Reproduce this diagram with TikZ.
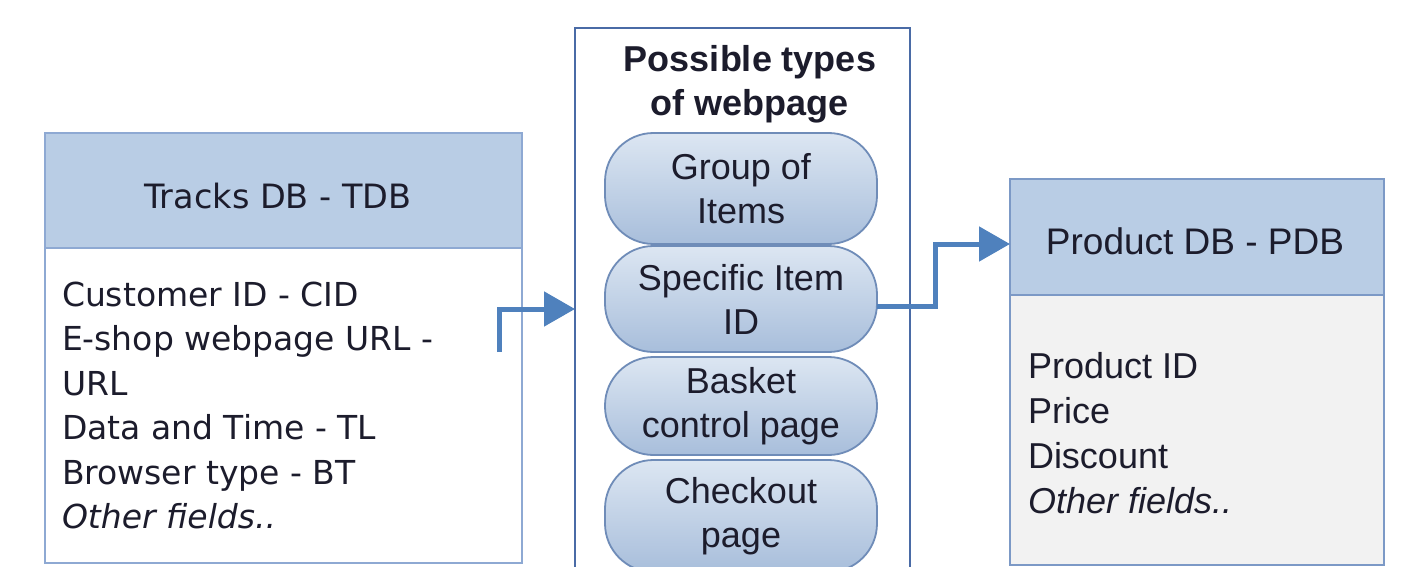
\documentclass[tikz,border=0pt]{standalone}
\usepackage{fontspec}
\setmainfont{Liberation Sans}
\newfontfamily\fieldfont{DejaVu Sans}
\usetikzlibrary{arrows.meta}

\definecolor{hdrfill}{HTML}{B9CDE5}
\definecolor{tdbline}{HTML}{8EA9D3}
\definecolor{pdbline}{HTML}{7C99C6}
\definecolor{midline}{HTML}{4A6BA6}
\definecolor{pilltop}{HTML}{DCE6F2}
\definecolor{pillbot}{HTML}{A8BEDB}
\definecolor{pillline}{HTML}{6F8CB8}
\definecolor{flowblue}{HTML}{4F81BD}
\definecolor{ink}{HTML}{1C1C2C}
\definecolor{pdbbody}{HTML}{F2F2F2}

\begin{document}
\begin{tikzpicture}[x=1pt,y=-1pt,
  box/.style={draw, line width=2pt, inner sep=0pt, outer sep=0pt},
  pill/.style={draw=pillline, line width=1.8pt, rounded corners=48.5pt,
    top color=pilltop, bottom color=pillbot, minimum width=272pt,
    text=ink, align=center, inner sep=0pt, outer sep=0pt,
    font=\fontsize{36}{44}\selectfont},
  label/.style={inner sep=0pt, outer sep=0pt, text=ink},
  flow/.style={draw=flowblue, line width=5pt,
    -{Triangle[length=31pt,width=34pt]}},
]
\useasboundingbox (0,0) rectangle (1406,567);
\clip (0,0) rectangle (1406,567);
\fill[white] (0,0) rectangle (1406,567);

% Tracks database
\node[box, draw=tdbline, fill=hdrfill, minimum width=477pt, minimum height=115pt]
  (thead) at (283.5,190.5) {};
\node[box, draw=tdbline, fill=white, minimum width=477pt, minimum height=315pt]
  (tbody) at (283.5,405.5) {};
\node[label, anchor=base, font=\fieldfont\fontsize{33.5}{40}\selectfont]
  (ttitle) at (278,208) {Tracks DB - TDB};
\node[label, anchor=base west, font=\fieldfont\fontsize{33}{44.5}\selectfont]
  (tfields) at (62,306) {\begin{tabular}[t]{@{}l@{}}
    Customer ID - CID\\
    E-shop webpage URL -\\
    URL\\
    Data and Time - TL\\
    Browser type - BT\\
    \textit{Other fields..}
  \end{tabular}};

% Webpage types
\node[box, draw=midline, fill=white, minimum width=335pt, minimum height=562pt]
  (mid) at (742.5,309) {};
\node[label, anchor=base, font=\bfseries\fontsize{36}{44}\selectfont]
  (midtitle) at (750,72) {\begin{tabular}[t]{@{}c@{}}Possible types\\ of webpage\end{tabular}};
\node[pill, minimum height=111pt] (p1) at (741,188.5) {Group of\\Items};
\node[pill, minimum height=106pt] (p2) at (741,299) {Specific Item\\ID};
\node[pill, minimum height=98pt]  (p3) at (741,406) {Basket\\control page};
\node[pill, minimum height=112pt] (p4) at (741,516) {Checkout\\page};

% Product database
\node[box, draw=pdbline, fill=hdrfill, minimum width=374pt, minimum height=116pt]
  (phead) at (1197,237) {};
\node[box, draw=pdbline, fill=pdbbody, minimum width=374pt, minimum height=270pt]
  (pbody) at (1197,430) {};
\node[label, anchor=base, font=\fontsize{37}{44}\selectfont]
  (ptitle) at (1195,254) {Product DB - PDB};
\node[label, anchor=base west, font=\fontsize{36}{45}\selectfont]
  (pfields) at (1028,378) {\begin{tabular}[t]{@{}l@{}}
    Product ID\\
    Price\\
    Discount\\
    \textit{Other fields..}
  \end{tabular}};

% Connectors
\coordinate (tout) at (499,352);
\draw[flow] (tout) |- (mid.west);
\draw[flow] ([yshift=-7pt]p2.east) -- ++(58,0) |- ([yshift=-7pt]phead.west);
\end{tikzpicture}
\end{document}
